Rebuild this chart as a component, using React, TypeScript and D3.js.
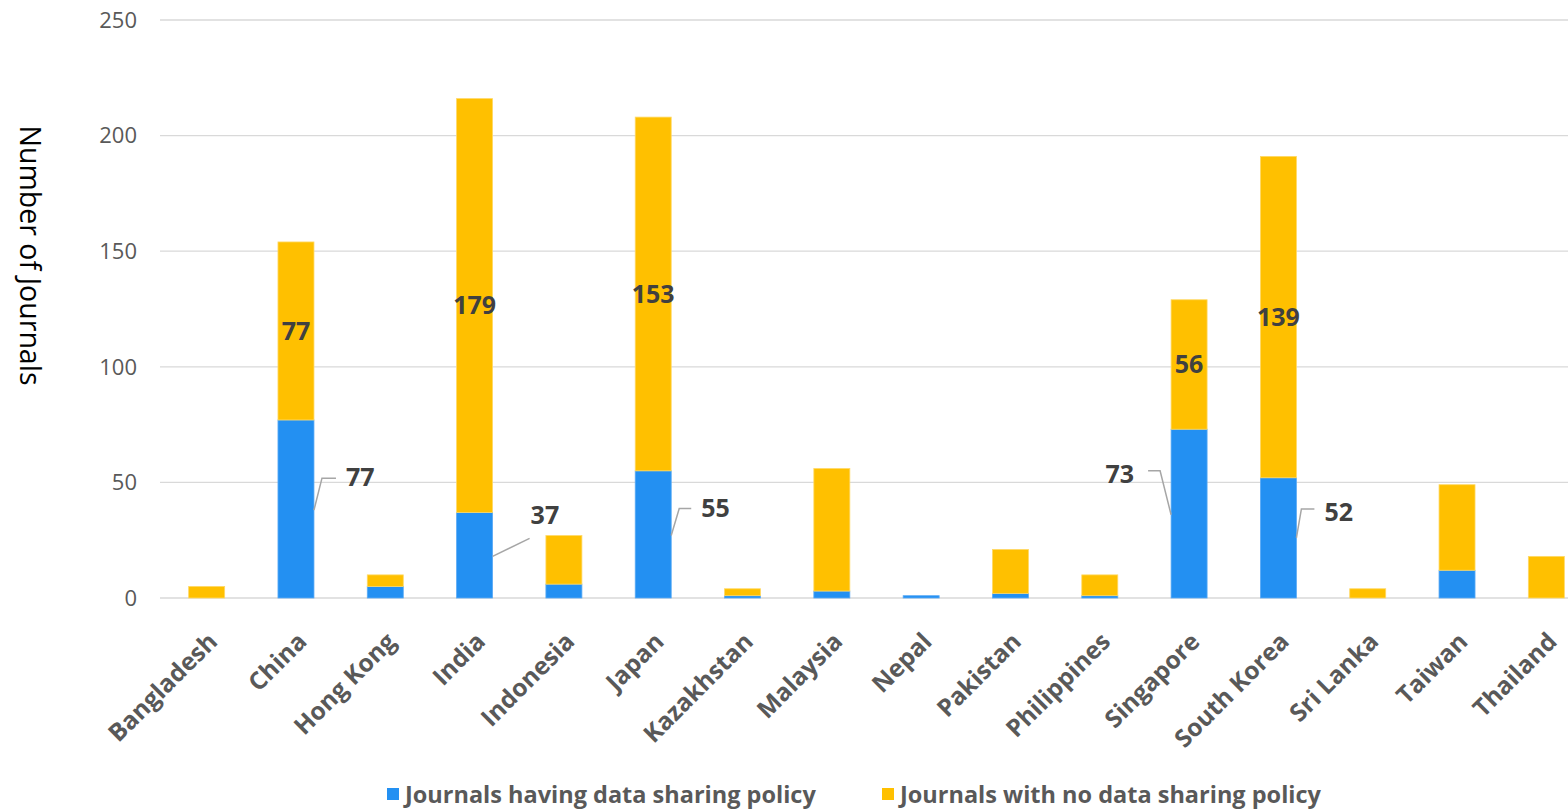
import React from "react";
import * as d3 from "d3";

const categories = ["Bangladesh","China","Hong Kong","India","Indonesia","Japan","Kazakhstan","Malaysia","Nepal","Pakistan","Philippines","Singapore","South Korea","Sri Lanka","Taiwan","Thailand"];
const withPolicy = [0,77,5,37,6,55,1,3,1,2,1,73,52,0,12,0];
const noPolicy = [5,77,5,179,21,153,3,53,0,19,9,56,139,4,37,18];
const yTicks = [0,50,100,150,200,250];
const seriesNames = ["Journals having data sharing policy","Journals with no data sharing policy"];
const colors = ["#2390F2","#FFC000"];
const blueLabelIdx = [1,3,5,11,12];
const yellowLabelIdx = [1,3,5,11,12];

const W = 1568, H = 811;
const FONT = "'Open Sans', 'Noto Sans', sans-serif";

const leaders: Record<number, {side: "r"|"l"; pts: [number, number][]; lx: number; ly: number}> = {
  1: {side: "r", pts: [[0, 0], [8, -32], [22, -32]], lx: 32, ly: -33},
  3: {side: "r", pts: [[0, 0], [37, -18]], lx: 38, ly: -41},
  5: {side: "r", pts: [[0, 0], [8, -27], [20, -27]], lx: 30, ly: -27},
  11: {side: "l", pts: [[0, 0], [-11, -44], [-23, -44]], lx: -37, ly: -41},
  12: {side: "r", pts: [[0, 0], [5, -29], [18, -29]], lx: 28, ly: -26},
};
const leaderAnchorValue: Record<number, number> = {1: 38, 3: 18, 5: 27, 11: 36, 12: 26};

export default function App() {
  const x = d3.scaleBand<string>().domain(categories).range([162, 1591]).paddingInner(0).paddingOuter(0);
  const y = d3.scaleLinear().domain([0, 250]).range([598, 20]);
  const bw = 36;
  const cx = (c: string) => (x(c) as number) + x.bandwidth() / 2;

  return (
    <svg width={W} height={H} style={{position: "absolute", left: 0, top: 0, background: "#fff"}} fontFamily={FONT}>
      {yTicks.map(t => (
        <g key={t}>
          <line x1={160} x2={W} y1={y(t)} y2={y(t)} stroke="#d9d9d9" strokeWidth={t === 0 ? 1.5 : 1.3} />
          <text x={137} y={y(t)} dy="0.35em" textAnchor="end" fontSize={22} fill="#595959">{t}</text>
        </g>
      ))}
      <text transform={`translate(20,${255.5}) rotate(90)`} textAnchor="middle" fontSize={28.5} fill="#000">Number of Journals</text>
      {categories.map((c, i) => {
        const x0 = cx(c) - bw / 2;
        const b = withPolicy[i], n = noPolicy[i];
        return (
          <g key={c}>
            {b > 0 && <rect x={x0} y={y(b)} width={bw} height={y(0) - y(b)} fill={colors[0]} stroke="#5aaaf5" strokeWidth={0.8} />}
            {n > 0 && <rect x={x0} y={y(b + n)} width={bw} height={y(b) - y(b + n)} fill={colors[1]} stroke="#ffd966" strokeWidth={0.8} />}
          </g>
        );
      })}
      {yellowLabelIdx.map(i => {
        const c = categories[i];
        const b = withPolicy[i], n = noPolicy[i];
        return <text key={"yl" + i} x={cx(c)} y={y(b + n / 2)} dy="0.35em" textAnchor="middle" fontSize={25} fontWeight="bold" fill="#404040">{n}</text>;
      })}
      {blueLabelIdx.map(i => {
        const c = categories[i];
        const L = leaders[i];
        const ex = L.side === "r" ? cx(c) + bw / 2 : cx(c) - bw / 2;
        const ey = y(leaderAnchorValue[i]);
        const d = d3.line()(L.pts.map(([dx, dy]) => [ex + dx, ey + dy]));
        return (
          <g key={"bl" + i}>
            <path d={d || ""} fill="none" stroke="#a6a6a6" strokeWidth={1.5} />
            <text x={ex + L.lx} y={ey + L.ly} dy="0.35em" textAnchor={L.side === "r" ? "start" : "end"} fontSize={25} fontWeight="bold" fill="#404040">{withPolicy[i]}</text>
          </g>
        );
      })}
      {categories.map(c => (
        <text key={"xl" + c} transform={`translate(${cx(c)},${631}) rotate(-45)`} textAnchor="end" dy="0.7em" fontSize={24.5} fontWeight="bold" fill="#595959">{c}</text>
      ))}
      <g>
        <rect x={387} y={788} width={12} height={12} fill={colors[0]} />
        <text x={405} y={795} dy="0.35em" fontSize={23.5} fontWeight="bold" fill="#595959">{seriesNames[0]}</text>
        <rect x={882} y={788} width={12} height={12} fill={colors[1]} />
        <text x={900} y={795} dy="0.35em" fontSize={23.5} fontWeight="bold" fill="#595959">{seriesNames[1]}</text>
      </g>
    </svg>
  );
}
